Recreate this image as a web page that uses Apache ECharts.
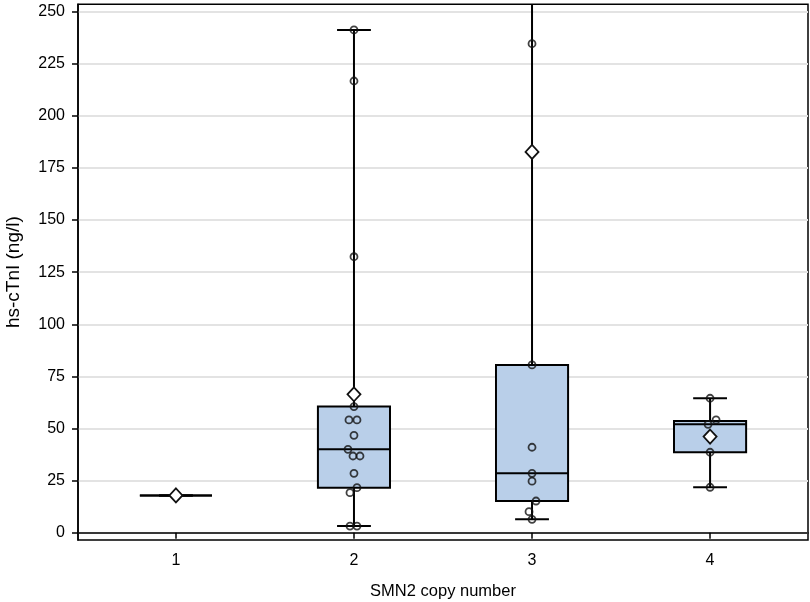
<!DOCTYPE html>
<html>
<head>
<meta charset="utf-8">
<script src="https://cdn.jsdelivr.net/npm/echarts@6/dist/echarts.min.js"></script>
<style>html,body{margin:0;padding:0;background:#fff}#c{width:810px;height:602px}</style>
</head>
<body>
<div id="c"></div>
<script>
// ---- data ----
var categories = [1, 2, 3, 4];
var yTicks = [0, 25, 50, 75, 100, 125, 150, 175, 200, 225, 250];
// individual observations per SMN2 copy number
var obs1 = [17.9];
var obs2 = [241.2, 216.7, 132.4, 60.5, 54.1, 54.1, 46.7, 40.0, 36.8, 36.8, 28.5, 21.6, 19.2, 3.2, 3.2];
var obs3 = [1203, 234.6, 80.5, 41.0, 28.5, 24.7, 15.2, 10.1, 6.4];
var obs4 = [64.5, 54.1, 52.0, 38.6, 21.8];
// horizontal marker jitter in pixels (style, same order as obs)
var jit1 = [0];
var jit2 = [0, 0, 0, 0, -5, 3, 0, -6, -1, 6, 0, 3, -4, -4, 3];
var jit3 = [0, 0, 0, 0, 0, 0, 4, -3, 0];
var jit4 = [0, 6, -2, 0, 0];
// box statistics
var boxMin = [17.9, 3.2, 6.4, 21.8];
var boxQ1 = [17.9, 21.6, 15.2, 38.6];
var boxMed = [17.9, 40.0, 28.5, 52.0];
var boxQ3 = [17.9, 60.5, 80.5, 53.6];
var boxMax = [17.9, 241.2, 1203, 64.5];
var means = [17.9, 66.4, 182.7, 46.1];

var allObs = [obs1, obs2, obs3, obs4];
var allJit = [jit1, jit2, jit3, jit4];

var boxData = categories.map(function (c, i) {
  return [c, boxMin[i], boxQ1[i], boxMed[i], boxQ3[i], boxMax[i]];
});
var pointData = [];
allObs.forEach(function (arr, i) {
  arr.forEach(function (v, j) {
    pointData.push({ value: [categories[i], v], symbolOffset: [allJit[i][j], 0] });
  });
});
var meanData = categories.map(function (c, i) { return [c, means[i]]; });

var FONT = 'Liberation Sans, Arial, sans-serif';
var chart = echarts.init(document.getElementById('c'), null, { renderer: 'canvas' });

chart.setOption({
  animation: false,
  backgroundColor: '#fff',
  grid: { left: 78, right: 2, top: 4.3, bottom: 62, containLabel: false, outerBoundsMode: 'none',
          show: true, borderColor: '#000', borderWidth: 1.5, backgroundColor: 'transparent' },
  xAxis: {
    type: 'value', min: 0.45, max: 4.55,
    name: 'SMN2 copy number', nameLocation: 'middle', nameGap: 43,
    nameTextStyle: { fontFamily: FONT, fontSize: 16.5, color: '#000' },
    axisLine: { show: true, lineStyle: { color: '#000', width: 1.5 } },
    axisTick: { show: true, length: 6, customValues: categories, lineStyle: { color: '#000', width: 1.5 } },
    axisLabel: { customValues: categories, margin: 13, fontFamily: FONT, fontSize: 16, color: '#000' },
    splitLine: { show: false }
  },
  yAxis: {
    type: 'value', min: -3.5, max: 253.5,
    name: 'hs-cTnI (ng/l)', nameLocation: 'middle', nameGap: 55, nameRotate: 90,
    nameTextStyle: { fontFamily: FONT, fontSize: 19, color: '#000' },
    axisLine: { show: true, lineStyle: { color: '#000', width: 1.5 } },
    axisTick: { show: true, length: 6, customValues: yTicks, lineStyle: { color: '#000', width: 1.5 } },
    axisLabel: { customValues: yTicks, margin: 13, fontFamily: FONT, fontSize: 16, color: '#000' },
    splitLine: { show: true, lineStyle: { color: '#e3e3e3', width: 2 } }
  },
  series: [
    {
      type: 'custom',
      clip: true,
      data: boxData,
      encode: { x: 0, y: [1, 2, 3, 4, 5] },
      renderItem: function (params, api) {
        var x = api.value(0);
        var unit = api.size([1, 0])[0];
        var bw = unit * 0.405 / 2;
        var cw = unit * 0.19 / 2;
        var pMin = api.coord([x, api.value(1)]);
        var pQ1 = api.coord([x, api.value(2)]);
        var pMed = api.coord([x, api.value(3)]);
        var pQ3 = api.coord([x, api.value(4)]);
        var pMax = api.coord([x, api.value(5)]);
        var cx = pMin[0];
        var ls = { stroke: '#000', lineWidth: 2 };
        return {
          type: 'group',
          children: [
            { type: 'line', shape: { x1: cx, y1: pMin[1], x2: cx, y2: pQ1[1] }, style: ls },
            { type: 'line', shape: { x1: cx, y1: pQ3[1], x2: cx, y2: pMax[1] }, style: ls },
            { type: 'line', shape: { x1: cx - cw, y1: pMin[1], x2: cx + cw, y2: pMin[1] }, style: ls },
            { type: 'line', shape: { x1: cx - cw, y1: pMax[1], x2: cx + cw, y2: pMax[1] }, style: ls },
            { type: 'rect', shape: { x: cx - bw, y: pQ3[1], width: bw * 2, height: pQ1[1] - pQ3[1] },
              style: { fill: '#b9cfe9', stroke: '#000', lineWidth: 2 } },
            { type: 'line', shape: { x1: cx - bw, y1: pMed[1], x2: cx + bw, y2: pMed[1] }, style: ls }
          ]
        };
      },
      z: 2
    },
    {
      type: 'scatter',
      data: pointData,
      symbol: 'circle',
      symbolSize: 7,
      itemStyle: { color: 'rgba(0,0,0,0)', borderColor: '#111', borderWidth: 1.8 },
      z: 3
    },
    {
      type: 'scatter',
      data: meanData,
      symbol: 'diamond',
      symbolSize: [13, 14],
      itemStyle: { color: '#fff', borderColor: '#111', borderWidth: 1.8, opacity: 1 },
      z: 4
    }
  ]
});
</script>
</body>
</html>
